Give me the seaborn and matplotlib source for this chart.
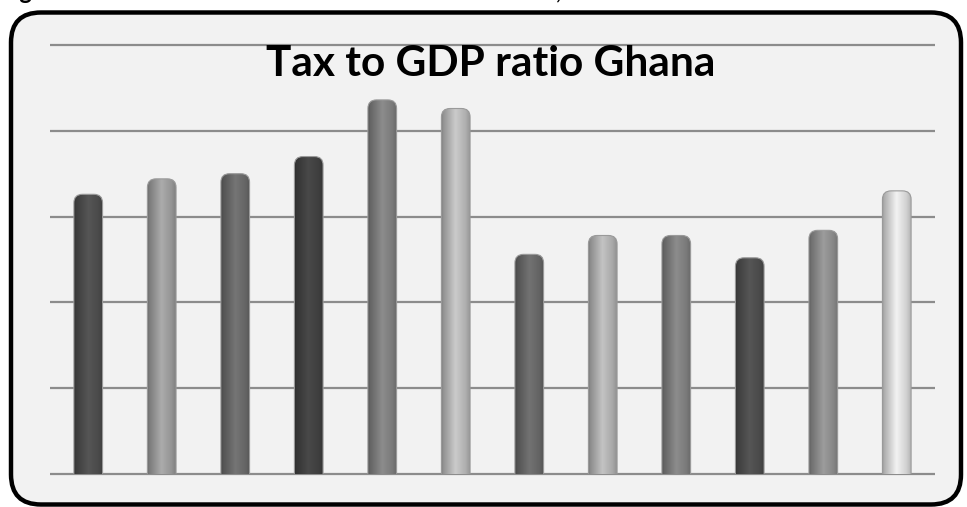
import numpy as np
import pandas as pd
import matplotlib
matplotlib.use("Agg")
import matplotlib.pyplot as plt
import seaborn as sns
from matplotlib.patches import FancyBboxPatch

# ---- data ----
years = ["2000", "2001", "2002", "2003", "2004", "2005",
         "2006", "2007", "2008", "2009", "2010", "2011"]
tax_gdp = [16.3, 17.2, 17.5, 18.5, 21.8, 21.3,
           12.8, 13.9, 13.9, 12.6, 14.2, 16.5]
bar_shade = [0.33, 0.66, 0.45, 0.28, 0.54, 0.78,
             0.44, 0.75, 0.54, 0.33, 0.60, 0.93]
y_ticks = [0, 5, 10, 15, 20, 25]
title = "Tax to GDP ratio Ghana"
caption = "Figure 1: Trend of tax revenue to GDP ratio in Ghana, 2000 - 2011"

df = pd.DataFrame({"year": years, "ratio": tax_gdp})

sns.set_theme(style="white")
plt.rcParams["font.family"] = ["Lato", "DejaVu Sans"]

W, H = 967, 507
fig = plt.figure(figsize=(W / 100, H / 100), dpi=100, facecolor="white")

# rounded frame (background)
frame = FancyBboxPatch((11, 2.5), 950, 492,
                       boxstyle="round,pad=0,rounding_size=30",
                       transform=None, facecolor="#f2f2f2",
                       edgecolor="black", linewidth=3.2, zorder=-10)
fig.patches.append(frame)

ax_left, ax_right = 50 / W, 935 / W
ax_bottom = (H - 474) / H
ax_top = (H - 45) / H
ax = fig.add_axes([ax_left, ax_bottom, ax_right - ax_left, ax_top - ax_bottom])
ax.set_facecolor("none")
ax.set_zorder(5)

sns.barplot(data=df, x="year", y="ratio", ax=ax, width=0.39,
            color="grey", saturation=1, zorder=2)
ax.set_xlim(-0.52, len(years) - 0.48)
ax.set_ylim(0, 25)

# gridlines
ax.hlines(y_ticks, -0.52, len(years) - 0.48, colors="#8c8c8c",
          linewidth=1.6, zorder=1, clip_on=False)

# cylinder-like shading
t = np.linspace(0, 1, 200)
prof = np.interp(t, [0, 0.06, 0.5, 0.85, 1.0], [0.58, 0.72, 1.02, 0.88, 0.76])
xpx_per_unit = (935 - 50) / (len(years) - 0.48 + 0.52)
ypx_per_unit = (474 - 45) / 25
for p, shade in zip(ax.patches, bar_shade):
    x0, w, h = p.get_x(), p.get_width(), p.get_height()
    p.set_facecolor("none")
    p.set_edgecolor("none")
    level = np.clip(shade * prof, 0, 1)
    img = np.tile(level, (2, 1))
    clip = FancyBboxPatch((x0, -2), w, h + 2,
                          boxstyle="round,pad=0,rounding_size=%f" % (w * 0.3),
                          mutation_aspect=xpx_per_unit / ypx_per_unit,
                          transform=ax.transData, facecolor="none",
                          edgecolor="#9a9a9a", linewidth=0.8, zorder=4)
    ax.add_patch(clip)
    im = ax.imshow(img, extent=[x0, x0 + w, 0, h], aspect="auto",
                   cmap="gray", vmin=0, vmax=1, zorder=3,
                   interpolation="bilinear")
    im.set_clip_path(clip)

ax.set_xlim(-0.52, len(years) - 0.48)
ax.set_ylim(0, 25)
ax.set_xticks([])
ax.set_yticks([])
ax.set_xlabel("")
ax.set_ylabel("")
for s in ax.spines.values():
    s.set_visible(False)

fig.text(491 / W, (H - 64) / H, title, ha="center", va="center",
         fontsize=30.5, fontweight="bold", color="black", zorder=10)
fig.text(0.0, 1.0 + 1.5 / H, caption, ha="left", va="baseline",
         fontsize=17, fontweight="bold", color="black")

fig.savefig("out.png", dpi=100, facecolor="white")
